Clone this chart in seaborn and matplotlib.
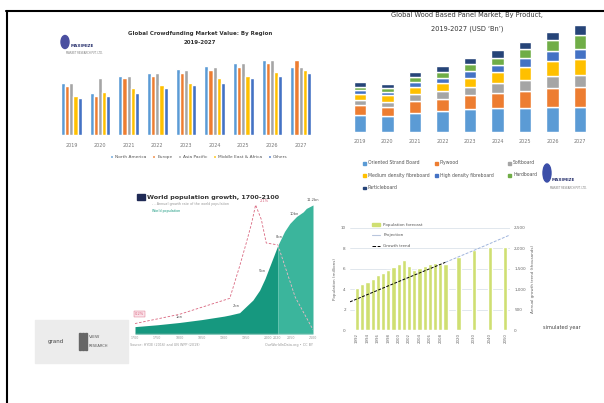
import numpy as np
import pandas as pd
import matplotlib
matplotlib.use("Agg")
import matplotlib.pyplot as plt
import seaborn as sns
from matplotlib.patches import Rectangle, Ellipse, Patch
from matplotlib.lines import Line2D

sns.set_theme(style="white")
plt.rcParams['font.family'] = ['DejaVu Sans']

W, H = 604, 403

# ---- panel 1 : regional market value (grouped bars)
region_years = ["2019", "2020", "2021", "2022", "2023", "2024", "2025", "2026", "2027"]
regions = ["North America", "Europe", "Asia Pacific", "Middle East & Africa", "Others"]
north_america = [15.7, 12.7, 17.7, 18.7, 19.7, 20.7, 21.5, 22.5, 20.5]
europe = [14.7, 11.7, 17.0, 17.7, 18.7, 19.5, 20.5, 21.5, 22.5]
asia_pacific = [15.7, 17.0, 17.7, 18.7, 19.5, 20.5, 21.5, 22.5, 20.5]
mid_east_africa = [11.7, 13.0, 14.0, 15.0, 15.7, 17.0, 17.7, 19.0, 19.5]
others = [11.0, 11.7, 12.7, 14.0, 15.0, 15.7, 17.0, 17.7, 18.7]

# ---- panel 2 : wood based panel market by product (stacked, USD Bn)
wood_years = ["2019", "2020", "2021", "2022", "2023", "2024", "2025", "2026", "2027"]
products = ["Oriented Strand Board", "Plywood", "Softboard",
            "Medium density fibreboard", "High density fibreboard", "Hardboard",
            "Particleboard"]
osb = [5.0, 4.8, 5.8, 6.2, 6.8, 7.2, 7.2, 7.4, 7.5]
plywood = [3.0, 2.8, 3.6, 3.8, 4.2, 4.6, 5.2, 5.8, 6.0]
softboard = [1.5, 1.5, 2.0, 2.2, 2.5, 2.8, 3.2, 3.5, 3.5]
mdf = [2.0, 2.0, 2.2, 2.5, 2.8, 3.3, 4.0, 4.5, 5.0]
hdf = [1.0, 1.0, 1.4, 1.6, 2.0, 2.2, 2.6, 3.0, 3.0]
hardboard = [1.0, 1.0, 1.4, 1.6, 2.0, 2.2, 2.6, 3.3, 4.0]
particleboard = [1.5, 1.4, 1.6, 1.8, 2.0, 2.2, 2.2, 2.5, 3.0]

# ---- panel 3 : world population growth 1700-2100
pop_years = [1700, 1750, 1800, 1850, 1900, 1913, 1935, 1950, 1965, 1980, 1992, 2003,
             2014, 2021, 2036, 2048, 2063, 2078, 2085, 2100]
pop_bn = [0.64, 0.8, 1.0, 1.25, 1.55, 1.65, 1.85, 2.4, 2.95, 3.8, 4.8, 5.9,
          7.0, 7.7, 8.9, 9.6, 10.2, 10.6, 10.9, 11.2]
growth_years = [1700, 1800, 1913, 1935, 1950, 1962, 1971, 1984, 1995, 2021]
growth_pct = [0.17, 0.32, 0.58, 1.1, 1.48, 1.8, 2.1, 1.86, 1.48, 1.45]
growth_proj_years = [2021, 2060, 2100]
growth_proj_pct = [1.45, 0.6, 0.07]
pop_marks = [(1800, 1.0, "1bn"), (1927, 2.0, "2bn"), (1987, 5.0, "5bn"),
             (2023, 8.0, "8bn"), (2057, 10.0, "10bn"), (2100, 11.2, "11.2bn")]

# ---- panel 4 : population bars and growth trend
pop_slots = list(range(18)) + [19.5, 22.5, 25.5, 28.5]
pop_labels = [str(y) for y in range(1992, 2010)] + ["2020", "2030", "2040", "2050"]
pop_values = [4.1, 4.5, 4.7, 5.0, 5.4, 5.6, 5.9, 6.2, 6.5, 6.9, 6.3, 5.9, 6.1, 6.3,
              6.5, 6.6, 6.5, 6.5, 7.2, 7.8, 8.1, 8.1]
trend_slots = [-1.35, 4, 9, 13, 17]
trend_values = [690, 975, 1240, 1450, 1660]
trend_proj_slots = [17, 23, 29.4]
trend_proj_values = [1660, 1980, 2330]

excel = ["#5b9bd5", "#ed7d31", "#a5a5a5", "#ffc000", "#4472c4", "#70ad47", "#264478"]


def px_box(x0, y0, x1, y1):
    return [x0 / W, 1 - y1 / H, (x1 - x0) / W, (y1 - y0) / H]


def ftext(x, y, s, **kw):
    fig.text(x / W, 1 - y / H, s, **kw)


def frect(x, y, w, h, **kw):
    fig.patches.append(Rectangle((x / W, 1 - (y + h) / H), w / W, h / H,
                                 transform=fig.transFigure, figure=fig, **kw))


fig = plt.figure(figsize=(6.04, 4.03), dpi=100)

# outer frame (top + left edge)
fig.add_artist(Line2D([6 / W, 1], [1 - 11 / H, 1 - 11 / H], color="black", lw=1.5))
fig.add_artist(Line2D([7 / W, 7 / W], [0, 1 - 11 / H], color="black", lw=1.5))

# ---------------- panel 1
df_region = pd.DataFrame({
    "year": region_years * 5,
    "region": np.repeat(regions, len(region_years)),
    "value": north_america + europe + asia_pacific + mid_east_africa + others,
})
ax1 = fig.add_axes(px_box(57, 55, 315, 135))
sns.barplot(data=df_region, x="year", y="value", hue="region", palette=excel[:5],
            width=0.72, saturation=1, ax=ax1)
ax1.set_ylim(0, 24)
sns.despine(ax=ax1, left=True, bottom=True)
ax1.set(xlabel="", ylabel="", yticks=[])
ax1.tick_params(axis="x", length=0, pad=6, labelsize=3.5, labelcolor="#777")
ax1.legend(loc="upper center", bbox_to_anchor=(0.55, -0.2), ncol=5, fontsize=3.2,
           frameon=False, handlelength=0.7, handleheight=0.7, columnspacing=1.3,
           handletextpad=0.4, labelcolor="#555")
ftext(200, 33, "Global Crowdfunding Market Value: By Region", fontsize=4,
      fontweight="bold", ha="center", va="center", color="#333")
ftext(200, 43, "2019-2027", fontsize=4, fontweight="bold", ha="center", va="center",
      color="#333")
# logo
fig.patches.append(Ellipse((65 / W, 1 - 42 / H), 8 / W, 13 / H, transform=fig.transFigure,
                           figure=fig, color="#4a4fa0"))
ftext(71, 46, "MAXIMIZE", fontsize=3, fontweight="bold", color="#2c3570", va="center")
ftext(66, 53, "MARKET RESEARCH PVT. LTD.", fontsize=1.8, color="#777", va="center")

# ---------------- panel 2
ax2 = fig.add_axes(px_box(346, 20, 594, 132))
bottom = np.zeros(len(wood_years))
for name, vals, col in zip(products, [osb, plywood, softboard, mdf, hdf, hardboard,
                                      particleboard], excel):
    ax2.bar(wood_years, vals, bottom=bottom, width=0.45, color=col, label=name)
    bottom += np.array(vals)
ax2.set_xlim(-0.5, 8.5)
ax2.set_ylim(0, 33.6)
sns.despine(ax=ax2, left=True, bottom=True)
ax2.set_yticks([])
ax2.tick_params(axis="x", length=0, pad=5, labelsize=3.5, labelcolor="#777")
ftext(467, 15, "Global Wood Based Panel Market, By Product,", fontsize=4.8,
      ha="center", va="center", color="#333")
ftext(467, 29, "2019-2027 (USD \u2018Bn\u2019)", fontsize=4.8, ha="center", va="center",
      color="#333")
leg_cols = [363, 435, 508]
leg_rows = [163, 175, 188]
for i, (name, col) in enumerate(zip(products, excel)):
    r, c = divmod(i, 3)
    frect(leg_cols[c], leg_rows[r] - 1.5, 3, 3, color=col)
    ftext(leg_cols[c] + 5, leg_rows[r], name, fontsize=3.3, va="center", color="#555")
fig.patches.append(Ellipse((547 / W, 1 - 173 / H), 8 / W, 18 / H, transform=fig.transFigure,
                           figure=fig, color="#3b4ea8"))
ftext(552, 180, "MAXIMIZE", fontsize=3, fontweight="bold", color="#2c3570", va="center")
ftext(550, 188, "MARKET RESEARCH PVT. LTD.", fontsize=1.8, color="#777", va="center")

# ---------------- panel 3
teal_dark, teal_light, pink = "#16987f", "#3bb59c", "#d9657e"
ax3 = fig.add_axes(px_box(135, 200, 313, 334))
yrs = np.array(pop_years)
pop = np.array(pop_bn)
hist = yrs <= 2021
proj = yrs >= 2021
ax3.fill_between(yrs[hist], pop[hist], color=teal_dark, lw=0)
ax3.fill_between(yrs[proj], pop[proj], color=teal_light, lw=0)
ax3.set_xlim(1700, 2100)
ax3.set_ylim(0, 11.63)
for yr, v, lab in pop_marks:
    ax3.annotate(lab, (yr, v), xytext=(0, 3), textcoords="offset points", fontsize=2.6,
                 ha="center", color="#555")
ax3g = ax3.twinx()
sns.lineplot(x=growth_years, y=growth_pct, ax=ax3g, color=pink, linestyle=(0, (3, 2)),
             linewidth=0.6)
sns.lineplot(x=growth_proj_years, y=growth_proj_pct, ax=ax3g, color="#f0b9c6",
             linestyle=(0, (3, 2)), linewidth=0.6)
ax3g.set_ylim(0, 2.18)
ax3g.annotate("2.1%", (1971, 2.1), xytext=(3, 2), textcoords="offset points", fontsize=2.6,
              color=pink)
ax3g.annotate("0.2%", (1700, 0.17), xytext=(0, 6), textcoords="offset points",
              fontsize=2.6, color=pink,
              bbox=dict(boxstyle="square,pad=0.2", fc="#fbe3ea", ec=pink, lw=0.3))
for a in (ax3, ax3g):
    sns.despine(ax=a, left=True, right=True, top=True, bottom=True)
    a.set(ylabel="", yticks=[])
ax3.set_xticks([1700, 1750, 1800, 1850, 1900, 1950, 2000, 2020, 2050, 2100])
ax3.tick_params(axis="x", length=0, pad=1.5, labelsize=2.3, labelcolor="#999")
ax3.axhline(0, color="#bbb", lw=0.3)
frect(137, 194, 8, 6, color="#1f2a55")
ftext(147, 197, "World population growth, 1700-2100", fontsize=4.6, fontweight="bold",
      color="#333", va="center")
ftext(152, 204.5, "- - Annual growth rate of the world population", fontsize=2.4,
      color="#999", va="center")
ftext(152, 211, "World population", fontsize=2.4, color=teal_dark, va="center")
ftext(130, 345, "Source: HYDE (2016) and UN WPP (2019)", fontsize=2.4, color="#999",
      va="center")
ftext(313, 345, "OurWorldInData.org \u2022 CC BY", fontsize=2.4, color="#999", va="center",
      ha="right")

# grand view research box
frect(35, 320, 93, 43, color="#ececec")
ftext(48, 342, "grand", fontsize=4, color="#444", va="center")
for bx in (79, 82, 85):
    frect(bx, 333, 2, 17, color="#666")
ftext(89, 337, "VIEW", fontsize=3.2, color="#555", va="center")
ftext(89, 346, "RESEARCH", fontsize=2.6, color="#555", va="center")

# ---------------- panel 4
lime = "#cfdf72"
ax4 = fig.add_axes(px_box(350, 228, 510, 330))
sns.barplot(x=pop_slots, y=pop_values, native_scale=True, color=lime, width=0.8,
            saturation=1, ax=ax4)
ax4.set_ylim(0, 10)
ax4.set_yticks([0, 2, 4, 6, 8, 10])
ax4.yaxis.grid(True, color="#d5dde6", lw=0.5)
ax4.set_axisbelow(True)
ax4.set_xticks(pop_slots[0:18:2] + pop_slots[18:])
ax4.set_xticklabels(pop_labels[0:18:2] + pop_labels[18:], rotation=90)
ax4.tick_params(axis="x", length=0, pad=2, labelsize=2.8, labelcolor="#666")
ax4.tick_params(axis="y", length=0, pad=3, labelsize=3, labelcolor="#666")
ax4.set_ylabel("Population (millions)", fontsize=3, color="#666", labelpad=3)
ax4r = ax4.twinx()
sns.lineplot(x=trend_slots, y=trend_values, ax=ax4r, color="black", linestyle=(0, (3, 1.5)),
             linewidth=0.7)
sns.lineplot(x=trend_proj_slots, y=trend_proj_values, ax=ax4r, color="#9fb4dc",
             linestyle=(0, (3, 1.5)), linewidth=0.7)
ax4r.set_ylim(0, 2500)
ax4r.set_yticks([0, 500, 1000, 1500, 2000, 2500])
ax4r.set_yticklabels(["0", "500", "1,000", "1,500", "2,000", "2,500"])
ax4r.tick_params(axis="y", length=0, pad=3, labelsize=3, labelcolor="#666")
ax4r.set_ylabel("Annual growth trend (thousands)", fontsize=3, color="#666", labelpad=4)
for a in (ax4, ax4r):
    a.set_xlim(-1.35, 29.4)
    sns.despine(ax=a, left=True, right=True, top=True, bottom=True)
ax4.legend(handles=[Patch(color=lime, label="Population forecast"),
                    Line2D([], [], color="#b9c6dd", lw=0.8, label="Projection"),
                    Line2D([], [], color="black", lw=0.7, ls="--", label="Growth trend")],
           loc="upper left", bbox_to_anchor=(368 / W, 1 - 219 / H),
           bbox_transform=fig.transFigure, fontsize=3, frameon=False, labelspacing=1.6,
           handlelength=2, handletextpad=0.8, labelcolor="#555")
ftext(543, 327, "simulated year", fontsize=3.6, color="#444", va="center")

fig.savefig("out.png", dpi=100)
